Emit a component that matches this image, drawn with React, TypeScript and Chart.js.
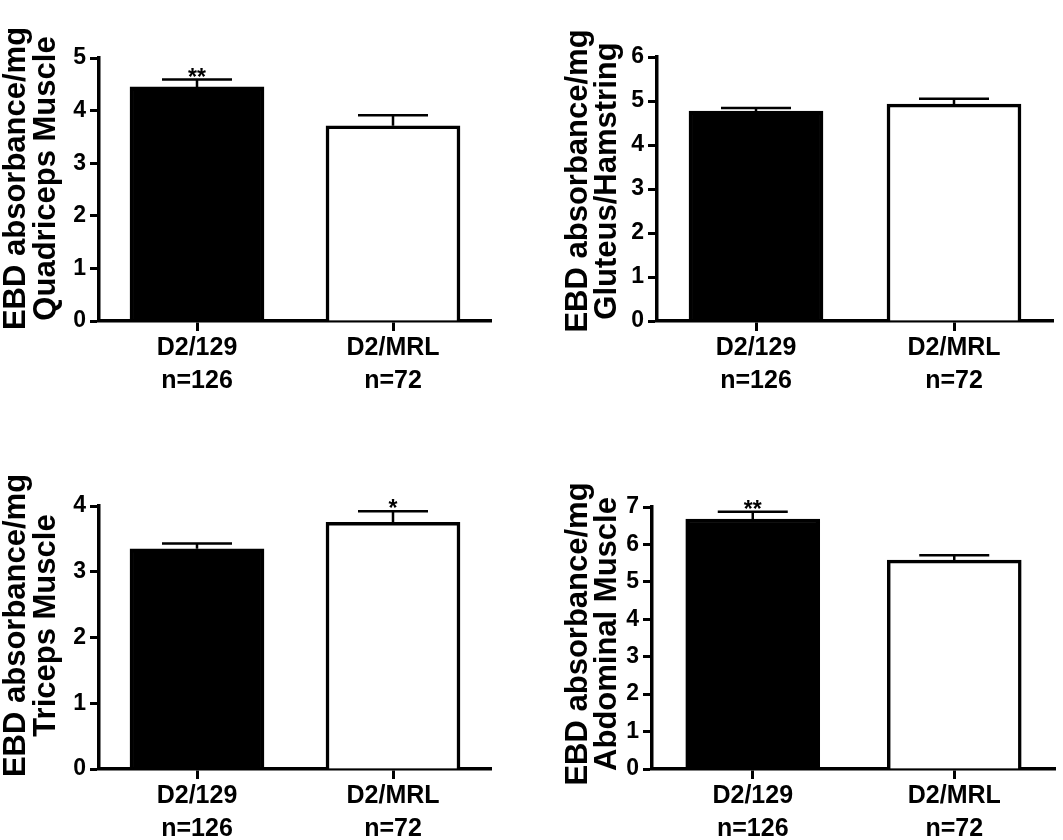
import React, { useEffect, useRef } from 'react';
import { Chart, registerables } from 'chart.js';

Chart.register(...registerables);

const FONT = "'Liberation Sans', Arial, Helvetica, sans-serif";

// ---- data ----
const categories = [
  ['D2/129', 'n=126'],
  ['D2/MRL', 'n=72'],
];

const quadTitle = ['EBD absorbance/mg', 'Quadriceps Muscle'];
const quadMeans = [4.45, 3.71];
const quadSem = [0.14, 0.2];
const quadSig = ['**', ''];
const quadMax = 5;

const glutTitle = ['EBD absorbance/mg', 'Gluteus/Hamstring'];
const glutMeans = [4.77, 4.93];
const glutSem = [0.07, 0.12];
const glutSig = ['', ''];
const glutMax = 6;

const triTitle = ['EBD absorbance/mg', 'Triceps Muscle'];
const triMeans = [3.35, 3.75];
const triSem = [0.08, 0.17];
const triSig = ['', '*'];
const triMax = 4;

const abdTitle = ['EBD absorbance/mg', 'Abdominal Muscle'];
const abdMeans = [6.68, 5.58];
const abdSem = [0.19, 0.13];
const abdSig = ['**', ''];
const abdMax = 7;

const barColors = ['#000000', '#ffffff'];

// ---- layout (canvas rects and chart-area rects inside them) ----
type PanelCfg = {
  x: number; y: number; w: number; h: number;
  left: number; right: number; top: number; bottom: number;
  title: string[]; titleX: number[]; titleDy: number;
  means: number[]; sem: number[]; sig: string[]; max: number;
};

const panels: PanelCfg[] = [
  { x: 0, y: 0, w: 530, h: 420, left: 99, right: 491, top: 58, bottom: 321,
    title: quadTitle, titleX: [-74, -44], titleDy: -11,
    means: quadMeans, sem: quadSem, sig: quadSig, max: quadMax },
  { x: 530, y: 0, w: 533, h: 420, left: 127, right: 523, top: 57, bottom: 321,
    title: glutTitle, titleX: [-70, -41], titleDy: -8,
    means: glutMeans, sem: glutSem, sig: glutSig, max: glutMax },
  { x: 0, y: 420, w: 530, h: 420, left: 99, right: 491, top: 86, bottom: 349,
    title: triTitle, titleX: [-74, -44], titleDy: -12,
    means: triMeans, sem: triSem, sig: triSig, max: triMax },
  { x: 530, y: 420, w: 533, h: 420, left: 122, right: 525, top: 87, bottom: 349,
    title: abdTitle, titleX: [-65, -36], titleDy: -4,
    means: abdMeans, sem: abdSem, sig: abdSig, max: abdMax },
];

function Panel({ cfg }: { cfg: PanelCfg }) {
  const ref = useRef<HTMLCanvasElement>(null);

  useEffect(() => {
    if (!ref.current) return;

    const errorPlugin = {
      id: 'errorBars',
      afterDatasetsDraw(chart: any) {
        const { ctx } = chart;
        const meta = chart.getDatasetMeta(0);
        const yScale = chart.scales.y;
        ctx.save();
        ctx.strokeStyle = '#000';
        ctx.fillStyle = '#000';
        ctx.lineWidth = 2.5;
        meta.data.forEach((el: any, i: number) => {
          const yTop = yScale.getPixelForValue(cfg.means[i]);
          const yErr = yScale.getPixelForValue(cfg.means[i] + cfg.sem[i]);
          ctx.beginPath();
          ctx.moveTo(el.x, yTop);
          ctx.lineTo(el.x, yErr);
          ctx.moveTo(el.x - 35, yErr);
          ctx.lineTo(el.x + 35, yErr);
          ctx.stroke();
          if (cfg.sig[i]) {
            ctx.font = `bold 23px ${FONT}`;
            ctx.textAlign = 'center';
            ctx.textBaseline = 'alphabetic';
            ctx.fillText(cfg.sig[i], el.x, yErr + 5);
          }
        });
        ctx.restore();
      },
    };

    const titlePlugin = {
      id: 'yTitle2',
      afterDraw(chart: any) {
        const { ctx, chartArea } = chart;
        ctx.save();
        ctx.fillStyle = '#000';
        ctx.font = `bold 31px ${FONT}`;
        ctx.textAlign = 'center';
        ctx.textBaseline = 'alphabetic';
        const cy = (chartArea.top + chartArea.bottom) / 2 + cfg.titleDy;
        cfg.title.forEach((line, i) => {
          ctx.save();
          ctx.translate(chartArea.left + cfg.titleX[i], cy);
          ctx.rotate(-Math.PI / 2);
          ctx.fillText(line, 0, 0);
          ctx.restore();
        });
        ctx.restore();
      },
    };

    const chart = new Chart(ref.current, {
      type: 'bar',
      data: {
        labels: categories,
        datasets: [
          {
            data: cfg.means,
            backgroundColor: barColors,
            borderColor: '#000000',
            borderWidth: 3.5,
            borderSkipped: 'start',
            barThickness: 134,
          },
        ],
      },
      options: {
        animation: false,
        responsive: false,
        devicePixelRatio: 1,
        events: [],
        layout: {
          padding: {
            left: 0,
            top: cfg.top,
            right: cfg.w - cfg.right,
            bottom: 0,
          },
        },
        plugins: {
          legend: { display: false },
          tooltip: { enabled: false },
          title: { display: false },
        },
        scales: {
          x: {
            type: 'category',
            offset: true,
            afterFit: (scale: any) => {
              scale.height = cfg.h - cfg.bottom;
            },
            grid: {
              display: true,
              offset: false,
              drawOnChartArea: false,
              drawTicks: true,
              tickLength: 10,
              tickWidth: 3,
              tickColor: '#000',
              color: '#000',
            },
            border: { display: true, color: '#000', width: 3.5 },
            ticks: {
              color: '#000',
              font: { family: FONT, size: 25, weight: 'bold', lineHeight: 1.34 },
              padding: 0,
              maxRotation: 0,
              minRotation: 0,
              autoSkip: false,
            },
          },
          y: {
            type: 'linear',
            min: 0,
            max: cfg.max,
            afterFit: (scale: any) => {
              scale.width = cfg.left;
            },
            grid: {
              display: true,
              drawOnChartArea: false,
              drawTicks: true,
              tickLength: 9,
              tickWidth: 3,
              tickColor: '#000',
              color: '#000',
            },
            border: { display: true, color: '#000', width: 3.5 },
            ticks: {
              stepSize: 1,
              color: '#000',
              font: { family: FONT, size: 23, weight: 'bold' },
              padding: 4,
            },
          },
        },
      } as any,
      plugins: [errorPlugin, titlePlugin],
    });

    return () => chart.destroy();
  }, [cfg]);

  return (
    <canvas
      ref={ref}
      width={cfg.w}
      height={cfg.h}
      style={{ position: 'absolute', left: cfg.x, top: cfg.y, width: cfg.w, height: cfg.h }}
    />
  );
}

export default function App() {
  return (
    <div
      style={{
        position: 'absolute',
        left: 0,
        top: 0,
        width: 1063,
        height: 840,
        background: '#ffffff',
        overflow: 'hidden',
      }}
    >
      {panels.map((p, i) => (
        <Panel key={i} cfg={p} />
      ))}
    </div>
  );
}
